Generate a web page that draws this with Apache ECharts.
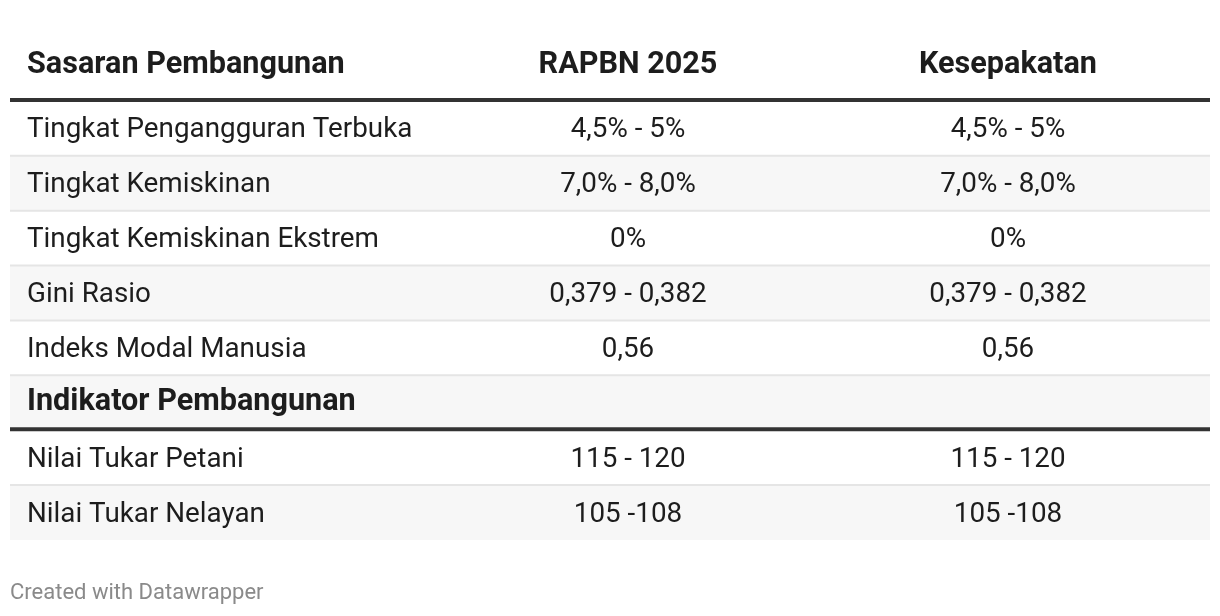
<!DOCTYPE html>
<html>
<head>
<meta charset="utf-8">
<script src="https://cdn.jsdelivr.net/npm/echarts@6/dist/echarts.min.js"></script>
<style>
  html, body { margin: 0; padding: 0; background: #fff; }
  #chart { width: 1220px; height: 616px; }
</style>
</head>
<body>
<div id="chart"></div>
<script>
// data tabel
const columns = ['Sasaran Pembangunan', 'RAPBN 2025', 'Kesepakatan']

const sasaran = ['Tingkat Pengangguran Terbuka', 'Tingkat Kemiskinan', 'Tingkat Kemiskinan Ekstrem', 'Gini Rasio', 'Indeks Modal Manusia']
const sasaranRapbn = ['4,5% - 5%', '7,0% - 8,0%', '0%', '0,379 - 0,382', '0,56']
const sasaranKesepakatan = ['4,5% - 5%', '7,0% - 8,0%', '0%', '0,379 - 0,382', '0,56']

const indikatorTitle = 'Indikator Pembangunan'
const indikator = ['Nilai Tukar Petani', 'Nilai Tukar Nelayan']
const indikatorRapbn = ['115 - 120', '105 -108']
const indikatorKesepakatan = ['115 - 120', '105 -108']

const footer = 'Created with Datawrapper'

// susun baris
const rows = [{cells: columns, type: 'head'}]
sasaran.forEach((s, i) => rows.push({cells: [s, sasaranRapbn[i], sasaranKesepakatan[i]], type: 'body'}))
rows.push({cells: [indikatorTitle, '', ''], type: 'section'})
indikator.forEach((s, i) => rows.push({cells: [s, indikatorRapbn[i], indikatorKesepakatan[i]], type: 'body'}))

// posisi kolom (sumbu x 0..1200)
const colX = [17, 618, 998]

const chart = echarts.init(document.getElementById('chart'))

const renderRow = (params, api) => {
  const i = api.value(1)
  const row = rows[i]
  const yc = api.coord([0, i])[1]
  const h = api.size([0, 1])[1]
  const x0 = params.coordSys.x
  const w = params.coordSys.width
  const top = yc - h / 2
  const children = []

  if (i >= 2 && i % 2 === 0) {
    children.push({type: 'rect', shape: {x: x0, y: top, width: w, height: h}, style: {fill: '#f7f7f7'}})
  }
  if (i >= 2 && rows[i - 1].type === 'body') {
    children.push({type: 'line', shape: {x1: x0, y1: top, x2: x0 + w, y2: top}, style: {stroke: '#e5e5e5', lineWidth: 2}})
  }
  if (row.type !== 'body') {
    children.push({type: 'line', shape: {x1: x0, y1: top + h - 1, x2: x0 + w, y2: top + h - 1}, style: {stroke: '#333333', lineWidth: 4}})
  }

  const bold = row.type !== 'body'
  const dy = row.type === 'head' ? -8 : (row.type === 'section' ? 0 : 2)
  row.cells.forEach((t, c) => {
    if (!t) return
    children.push({
      type: 'text',
      x: api.coord([colX[c], i])[0],
      y: yc + dy,
      style: {
        text: t,
        fill: '#1d1d1d',
        font: (bold ? 'bold 30.6px' : '27.8px') + ' Roboto',
        align: c === 0 ? 'left' : 'center',
        verticalAlign: 'middle'
      }
    })
  })
  return {type: 'group', children}
}

const option = {
  animation: false,
  title: {
    text: footer,
    left: 5,
    top: 577,
    textStyle: {color: '#8a8a8a', fontSize: 22, fontWeight: 'normal', fontFamily: 'Roboto'}
  },
  grid: {left: 10, right: 10, top: 46, bottom: 76},
  xAxis: {type: 'value', min: 0, max: 1200, show: false},
  yAxis: {type: 'category', inverse: true, show: false, data: rows.map(r => r.cells[0])},
  series: [
    {
      type: 'custom',
      renderItem: renderRow,
      data: rows.map((r, i) => [0, i]),
      silent: true
    }
  ]
}

option && chart.setOption(option)
</script>
</body>
</html>
